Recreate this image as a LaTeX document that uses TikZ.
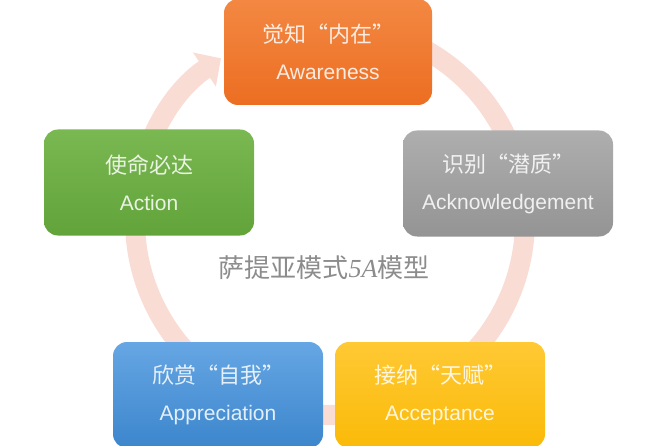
\documentclass[tikz,border=0pt]{standalone}
\usepackage{fontspec}
\setmainfont{Liberation Sans}
\newfontfamily\cjk{Noto Sans CJK SC}
\newfontfamily\serifit{Liberation Serif}[Scale=1]
\usetikzlibrary{arrows.meta}
\definecolor{ringc}{RGB}{249,221,212}
\definecolor{orT}{RGB}{243,136,66}
\definecolor{orB}{RGB}{236,110,34}
\definecolor{grT}{RGB}{174,174,174}
\definecolor{grB}{RGB}{148,148,148}
\definecolor{gnT}{RGB}{122,184,82}
\definecolor{gnB}{RGB}{98,163,58}
\definecolor{blT}{RGB}{102,166,228}
\definecolor{blB}{RGB}{60,134,204}
\definecolor{yeT}{RGB}{255,201,52}
\definecolor{yeB}{RGB}{250,186,8}
\definecolor{midgray}{RGB}{140,140,140}
\newcommand{\cjkline}[1]{{\cjk\fontsize{22}{37}\selectfont #1}}
\begin{document}
\begin{tikzpicture}[x=1pt,y=-1pt,
  stagebox/.style={rounded corners=14pt, minimum width=210pt, minimum height=106pt,
    inner sep=0pt, align=center, text=white, text opacity=0.85,
    font=\fontsize{21}{37}\selectfont},
  ringline/.style={draw=ringc, line width=20pt,
    -{Triangle[width=40pt,length=20pt]}}]
\useasboundingbox (0,0) rectangle (663,446);
\coordinate (ctr) at (330,220);
\coordinate (ringstart) at (330,25);
\draw[ringline] (ringstart) arc[start angle=270, end angle=596, radius=195];
\node[stagebox, top color=orT, bottom color=orB, minimum width=208pt] (aware) at (328,52)
  {\cjkline{觉知“内在”}\\Awareness};
\node[stagebox, top color=grT, bottom color=grB] (ack) at (508,183.5)
  {\cjkline{识别“潜质”}\\Acknowledgement};
\node[stagebox, top color=gnT, bottom color=gnB] (act) at (149,182.5)
  {\cjkline{使命必达}\\Action};
\node[stagebox, top color=blT, bottom color=blB] (appr) at (218,395)
  {\cjkline{欣赏“自我”}\\Appreciation};
\node[stagebox, top color=yeT, bottom color=yeB] (acc) at (440,395)
  {\cjkline{接纳“天赋”}\\Acceptance};
\node[text=midgray, font=\fontsize{26}{28}\selectfont, inner sep=0pt] (title) at (324,268)
  {{\cjk 萨提亚模式}{\serifit\itshape 5A}{\cjk 模型}};
\end{tikzpicture}
\end{document}
